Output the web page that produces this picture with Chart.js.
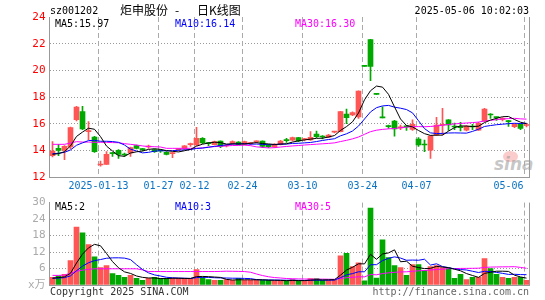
<!DOCTYPE html>
<html>
<head>
<meta charset="utf-8">
<script src="https://cdn.jsdelivr.net/npm/chart.js@4.4.1/dist/chart.umd.min.js"></script>
<style>
  html, body { margin: 0; padding: 0; background: #fff; }
  #wrap { position: relative; width: 545px; height: 300px; overflow: hidden; font: 10px 'DejaVu Sans Mono', monospace; color: #000; }
  canvas { position: absolute; left: 0; }
  #kline { top: 0; }
  #vol { top: 192px; }
  .t { position: absolute; line-height: 10px; white-space: pre; }
  .cn { font: 12px 'Noto Sans CJK SC'; line-height: 12px; top: 4px; }
  #logo { position: absolute; left: 503px; top: 151px; width: 15px; height: 11px; border-radius: 50%; background: rgba(240, 110, 110, 0.35); }
  #sina { position: absolute; left: 494px; top: 155px; font: italic bold 17px 'DejaVu Sans', sans-serif; color: rgba(150, 150, 150, 0.55); line-height: 18px; }
</style>
</head>
<body>
<div id="wrap">
  <div id="logo"></div>
  <div id="sina">sina</div>
  <canvas id="kline" width="545" height="192"></canvas>
  <canvas id="vol" width="545" height="108"></canvas>
  <div class="t" style="left:50px;top:6px">sz001202</div>
  <div class="t cn" style="left:120px">炬申股份</div>
  <div class="t cn" style="left:175px">-</div>
  <div class="t cn" style="left:197px">日K线图</div>
  <div class="t" style="right:16px;top:6px">2025-05-06 10:02:03</div>
  <div class="t" id="ma5Txt" style="left:55px;top:19px"></div>
  <div class="t" id="ma10Txt" style="left:175px;top:19px;color:#0000ff"></div>
  <div class="t" id="ma30Txt" style="left:295px;top:19px;color:#ff00ff"></div>
  <div class="t" id="vma5Txt" style="left:55px;top:202px"></div>
  <div class="t" id="vma10Txt" style="left:175px;top:202px;color:#0000ff"></div>
  <div class="t" id="vma30Txt" style="left:295px;top:202px;color:#ff00ff"></div>
  <div class="t" style="left:50px;top:287px;color:#333">Copyright 2025 SINA.COM</div>
  <div class="t" style="right:16px;top:287px;color:#666">http://finance.sina.com.cn</div>
</div>
<script>
const dates = ['2024-12-31','2025-01-02','2025-01-03','2025-01-06','2025-01-07','2025-01-08','2025-01-09','2025-01-10',
  '2025-01-13','2025-01-14','2025-01-15','2025-01-16','2025-01-17','2025-01-20','2025-01-21','2025-01-22','2025-01-23','2025-01-24',
  '2025-01-27','2025-02-05','2025-02-06','2025-02-07','2025-02-10','2025-02-11','2025-02-12','2025-02-13','2025-02-14',
  '2025-02-17','2025-02-18','2025-02-19','2025-02-20','2025-02-21','2025-02-24','2025-02-25','2025-02-26','2025-02-27','2025-02-28',
  '2025-03-03','2025-03-04','2025-03-05','2025-03-06','2025-03-07','2025-03-10','2025-03-11','2025-03-12','2025-03-13','2025-03-14',
  '2025-03-17','2025-03-18','2025-03-19','2025-03-20','2025-03-21','2025-03-24','2025-03-25','2025-03-26','2025-03-27','2025-03-28',
  '2025-03-31','2025-04-01','2025-04-02','2025-04-03','2025-04-07','2025-04-08','2025-04-09','2025-04-10','2025-04-11',
  '2025-04-14','2025-04-15','2025-04-16','2025-04-17','2025-04-18','2025-04-21','2025-04-22','2025-04-23','2025-04-24','2025-04-25',
  '2025-04-28','2025-04-29','2025-04-30','2025-05-06'];

const tickDates = ['2025-01-13','2025-01-27','2025-02-12','2025-02-24','2025-03-10','2025-03-24','2025-04-07','2025-05-06'];
const tickLabels = ['2025-01-13','01-27','02-12','02-24','03-10','03-24','04-07','05-06'];

const openP = [13.6,14.15,14.0,14.25,16.3,16.9,15.4,15.0,12.9,12.95,
  13.8,14.0,13.7,13.8,14.35,14.1,14.25,14.05,14.0,13.85,
  13.75,14.05,14.1,14.43,14.4,14.9,14.55,14.42,14.7,14.33,
  14.52,14.62,14.45,14.5,14.63,14.7,14.4,14.27,14.45,14.77,
  14.77,14.95,14.8,14.78,15.22,15.05,14.98,15.36,15.4,16.72,
  16.65,16.5,20.3,22.3,18.27,16.5,15.85,16.2,15.68,15.8,
  15.57,14.85,14.45,14.02,15.15,15.88,16.28,15.8,15.75,15.52,
  15.78,15.52,16.2,16.7,16.5,16.32,16.2,15.78,15.97,15.86];
const closeP = [13.95,14.0,14.3,15.7,17.25,15.6,15.45,13.9,12.95,13.7,
  13.75,13.7,13.65,14.2,14.15,14.05,14.3,13.9,13.95,13.7,
  13.8,14.07,14.33,14.45,14.9,14.55,14.5,14.65,14.3,14.36,
  14.65,14.45,14.65,14.52,14.65,14.3,14.27,14.45,14.7,14.73,
  14.95,14.7,14.83,14.98,15.02,15.0,15.15,15.38,16.9,16.45,
  16.83,18.45,20.3,20.3,18.2,16.44,15.78,15.6,15.72,15.76,
  15.95,14.4,14.4,15.07,15.9,15.92,15.9,15.75,15.7,15.82,
  15.75,16.03,17.1,16.65,16.45,16.35,16.15,15.97,15.65,15.9];
const highP = [14.65,14.45,14.35,15.75,17.3,17.3,16.15,15.05,13.2,13.9,
  13.85,14.05,13.8,14.25,14.4,14.15,14.4,14.1,14.05,13.9,
  13.85,14.15,14.35,14.55,15.73,14.95,14.6,14.7,14.72,14.45,
  14.72,14.65,14.7,14.6,14.72,14.72,14.45,14.5,14.75,14.9,
  15.0,14.98,14.9,15.4,15.45,15.1,15.2,15.42,16.92,17.1,
  16.88,18.47,20.3,22.33,18.27,17.27,15.9,16.25,15.9,15.85,
  16.28,14.95,14.77,15.1,16.48,17.15,16.3,16.05,16.1,15.85,
  15.95,16.1,17.15,16.75,16.5,16.45,16.25,16.0,16.0,16.0];
const lowP = [13.5,13.6,13.3,14.1,16.2,15.55,14.8,13.85,12.82,12.95,
  13.55,13.4,13.55,13.55,14.1,13.95,14.15,13.85,13.85,13.65,
  13.45,13.95,14.05,14.3,14.35,14.5,14.35,14.4,14.2,14.25,
  14.45,14.4,14.4,14.4,14.55,14.2,14.2,14.2,14.4,14.6,
  14.7,14.65,14.7,14.75,14.95,14.85,14.95,15.3,15.38,16.0,
  16.6,16.4,20.3,19.22,18.2,16.44,15.65,15.07,15.55,15.5,
  15.5,14.3,13.9,13.4,15.1,15.15,15.5,15.55,15.45,15.45,
  15.55,15.5,16.15,16.4,16.25,16.2,15.8,15.7,15.55,15.75];

const ma5 = [13.70,13.75,13.90,14.33,15.04,15.37,15.66,15.58,15.03,14.32,
  13.95,13.60,13.55,13.80,13.89,13.95,14.07,14.12,14.07,13.98,
  13.93,13.88,13.97,14.07,14.31,14.46,14.55,14.61,14.58,14.47,
  14.49,14.48,14.48,14.53,14.58,14.51,14.48,14.44,14.47,14.49,
  14.62,14.71,14.78,14.84,14.90,14.91,15.00,15.11,15.49,15.78,
  16.14,16.80,17.79,18.47,18.82,18.74,18.20,17.26,16.35,15.86,
  15.76,15.49,15.25,15.12,15.14,15.14,15.44,15.71,15.83,15.82,
  15.78,15.81,16.08,16.27,16.40,16.52,16.54,16.31,16.11,16.00];
const ma10 = [13.75,13.78,13.85,14.03,14.38,14.56,14.73,14.75,14.68,14.68,
  14.66,14.60,14.40,14.09,13.95,13.81,13.85,13.94,13.97,13.96,
  13.97,14.01,14.03,14.06,14.14,14.17,14.23,14.30,14.36,14.41,
  14.47,14.48,14.50,14.46,14.47,14.45,14.42,14.43,14.46,14.47,
  14.52,14.53,14.56,14.59,14.66,14.74,14.81,14.87,15.09,15.24,
  15.45,15.82,16.35,16.88,17.20,17.33,17.37,17.24,17.16,17.06,
  16.81,16.22,15.63,15.31,15.26,15.27,15.30,15.31,15.30,15.29,
  15.42,15.58,15.79,15.86,15.92,15.96,16.00,16.03,16.01,16.03];
const ma30 = [14.45,14.45,14.45,14.55,14.65,14.62,14.62,14.60,14.60,14.60,
  14.58,14.57,14.50,14.45,14.40,14.33,14.28,14.27,14.25,14.15,
  14.15,14.15,14.15,14.15,14.15,14.18,14.25,14.28,14.30,14.34,
  14.36,14.37,14.39,14.35,14.26,14.22,14.18,14.20,14.25,14.29,
  14.33,14.36,14.40,14.43,14.46,14.49,14.52,14.56,14.66,14.75,
  14.86,15.00,15.20,15.40,15.51,15.57,15.61,15.64,15.69,15.74,
  15.78,15.78,15.77,15.79,15.83,15.88,15.94,15.98,16.02,16.05,
  16.08,16.12,16.20,16.25,16.30,16.35,16.38,16.40,16.36,16.34];

// volume in 万手
const volume = [2.8,3.3,3.9,8.9,21.1,19.0,14.7,10.3,6.3,7.1,
  4.2,3.5,2.8,3.5,2.4,1.7,2.4,2.8,2.4,2.4,
  2.4,2.4,2.4,2.4,5.6,2.8,2.0,1.7,1.7,2.0,
  1.7,2.4,1.7,1.7,2.0,1.7,1.7,1.5,1.5,1.5,
  2.0,1.5,1.5,2.3,2.3,1.7,1.7,1.7,10.6,11.5,
  6.7,8.1,1.5,28.0,2.5,16.4,10.0,7.1,6.3,3.5,
  7.4,7.4,5.3,6.7,7.1,6.3,6.2,2.4,3.9,2.0,
  2.8,2.8,9.6,6.0,3.9,2.8,2.4,2.8,2.8,1.7];
const volMa5 = [2.50,2.68,2.96,4.28,8.00,11.24,13.52,14.80,14.28,11.48,
  8.52,6.28,4.78,4.22,3.28,2.78,2.56,2.56,2.34,2.34,
  2.48,2.48,2.40,2.40,3.04,3.12,3.04,2.90,2.76,2.04,
  1.82,1.90,1.90,1.90,1.90,1.90,1.76,1.72,1.68,1.58,
  1.64,1.60,1.60,1.76,1.92,1.86,1.90,1.94,3.60,5.44,
  6.44,7.72,7.68,11.16,9.36,11.30,11.68,12.80,8.46,8.66,
  6.86,6.34,5.98,6.06,6.78,6.56,6.32,5.74,5.18,4.16,
  3.46,2.78,4.22,4.64,5.02,5.02,4.94,3.58,2.94,2.50];
const volMa10 = [2.44,2.53,2.68,3.33,5.20,6.86,8.09,8.88,9.27,9.74,
  9.88,9.90,9.79,9.25,7.38,5.65,4.42,3.67,3.28,2.81,
  2.63,2.52,2.48,2.37,2.69,2.80,2.76,2.65,2.58,2.54,
  2.47,2.47,2.40,2.33,1.97,1.86,1.83,1.81,1.79,1.74,
  1.77,1.68,1.66,1.72,1.75,1.75,1.75,1.77,2.68,3.68,
  4.15,4.81,4.81,7.38,7.40,8.87,9.70,10.24,9.81,9.01,
  9.08,9.01,9.39,7.26,7.72,6.71,6.33,5.86,5.62,5.47,
  5.01,4.55,4.98,4.91,4.59,4.24,3.86,3.90,3.79,3.76];
const volMa30 = [3.50,3.50,3.60,4.30,5.00,5.40,5.70,5.90,5.90,5.90,
  5.90,5.90,5.90,5.90,5.90,5.50,4.90,4.90,4.90,4.90,
  4.90,4.90,4.90,4.90,4.90,4.90,4.90,4.90,4.95,5.03,
  4.99,4.96,4.89,4.65,4.01,3.44,3.00,2.71,2.55,2.36,
  2.29,2.22,2.18,2.14,2.14,2.14,2.11,2.08,2.35,2.65,
  2.80,2.99,2.96,3.81,3.71,4.16,4.43,4.61,4.76,4.81,
  5.00,5.17,5.29,5.45,5.62,5.78,5.93,5.96,6.04,6.05,
  6.08,6.12,6.39,6.52,6.57,6.61,6.63,6.67,6.41,6.08];

const maLabels = ['MA5:15.97', 'MA10:16.14', 'MA30:16.30'];
const volMaLabels = ['MA5:2', 'MA10:3', 'MA30:5'];

const RED = '#ff5555';
const GREEN = '#00a800';
const MONO = "'DejaVu Sans Mono', 'Noto Sans CJK SC', monospace";

['ma5Txt', 'ma10Txt', 'ma30Txt'].forEach((id, i) => { document.getElementById(id).textContent = maLabels[i]; });
['vma5Txt', 'vma10Txt', 'vma30Txt'].forEach((id, i) => { document.getElementById(id).textContent = volMaLabels[i]; });

const barColors = dates.map((d, i) => closeP[i] > openP[i] ? RED : GREEN);

// dashed date lines, right border and date labels
const frame = {
  id: 'frame',
  beforeDatasetsDraw(chart) {
    const { ctx, chartArea: a, scales: { x } } = chart;
    ctx.save();
    ctx.lineWidth = 1;
    ctx.strokeStyle = '#aaa';
    ctx.setLineDash([5, 3]);
    tickDates.forEach(d => {
      const px = Math.floor(x.getPixelForValue(dates.indexOf(d))) - 2 + 0.5;
      ctx.beginPath();
      ctx.moveTo(px, a.top);
      ctx.lineTo(px, a.bottom);
      ctx.stroke();
    });
    ctx.setLineDash([]);
    ctx.strokeStyle = '#999';
    const rx = Math.floor(a.right) + 0.5;
    ctx.beginPath();
    ctx.moveTo(rx, a.top);
    ctx.lineTo(rx, a.bottom);
    ctx.stroke();
    ctx.restore();
  },
  afterDraw(chart, args, opts) {
    if (!opts.labels) return;
    const { ctx, chartArea: a, scales: { x } } = chart;
    ctx.save();
    ctx.font = '10px ' + MONO;
    ctx.fillStyle = '#0a72c4';
    ctx.textAlign = 'center';
    ctx.textBaseline = 'middle';
    tickDates.forEach((d, k) => {
      const w = ctx.measureText(tickLabels[k]).width;
      let px = Math.floor(x.getPixelForValue(dates.indexOf(d))) - 2 + 0.5;
      px = Math.min(px, a.right - 6 - w / 2);
      ctx.fillText(tickLabels[k], px, a.bottom + 9);
    });
    ctx.restore();
  }
};

function lineSet(data, color) {
  return { type: 'line', data, borderColor: color, borderWidth: 1, pointRadius: 0, tension: 0, order: 0 };
}

function baseOptions(top, yOpts, labels) {
  return {
    responsive: false,
    animation: false,
    devicePixelRatio: 1,
    layout: { padding: { top, right: 15.5, left: 0, bottom: 0 } },
    plugins: { legend: { display: false }, tooltip: { enabled: false }, frame: { labels } },
    scales: {
      x: {
        offset: true,
        ticks: { display: false },
        grid: { display: false },
        border: { color: '#999' },
        afterFit: s => { s.height = 15; }
      },
      y: Object.assign({
        border: { color: '#999', dash: [1, 2] },
        afterFit: s => { s.width = 49.5; }
      }, yOpts)
    }
  };
}

new Chart(document.getElementById('kline'), {
  type: 'bar',
  data: {
    labels: dates,
    datasets: [
      lineSet(ma5, '#000000'),
      lineSet(ma10, '#0000ff'),
      lineSet(ma30, '#ff00ff'),
      { data: dates.map((d, i) => [openP[i], closeP[i]]), backgroundColor: barColors, barThickness: 5, minBarLength: 1, grouped: false, borderWidth: 0, order: 1 },
      { data: dates.map((d, i) => [lowP[i], highP[i]]), backgroundColor: barColors, barThickness: 1, grouped: false, borderWidth: 0, order: 2 }
    ]
  },
  options: baseOptions(17, {
    min: 12, max: 24,
    ticks: { stepSize: 2, color: '#ff0000', padding: 4, font: { family: MONO, size: 11 } },
    grid: { drawTicks: false, color: c => (c.tick.value === 24 || c.tick.value === 12) ? 'rgba(0,0,0,0)' : '#999' }
  }, true),
  plugins: [frame]
});

new Chart(document.getElementById('vol'), {
  type: 'bar',
  data: {
    labels: dates,
    datasets: [
      lineSet(volMa5, '#000000'),
      lineSet(volMa10, '#0000ff'),
      lineSet(volMa30, '#ff00ff'),
      { data: volume, backgroundColor: barColors, barThickness: 5, grouped: false, borderWidth: 0, order: 1 }
    ]
  },
  options: baseOptions(9, {
    min: 0, max: 30,
    ticks: { stepSize: 6, color: '#aaa', padding: 4, font: { family: MONO, size: 11 }, callback: v => v === 0 ? 'x万' : v },
    grid: { drawTicks: false, color: c => (c.tick.value === 30 || c.tick.value === 0) ? 'rgba(0,0,0,0)' : '#999' }
  }, false),
  plugins: [frame]
});
</script>
</body>
</html>
